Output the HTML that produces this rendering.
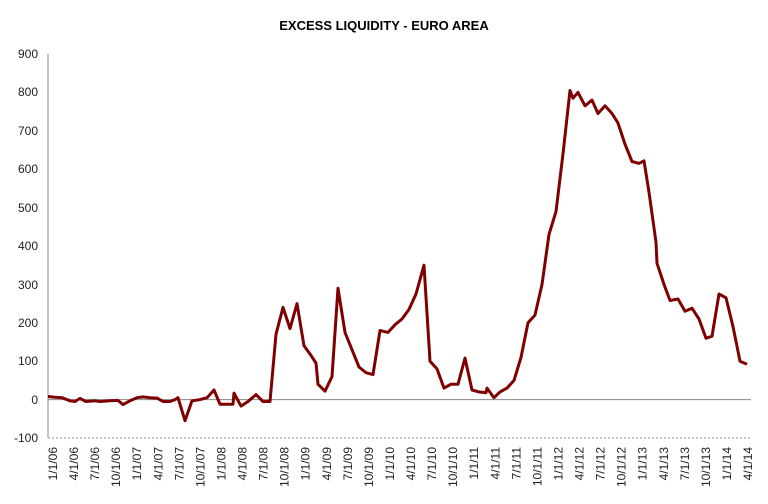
<!DOCTYPE html>
<html><head><meta charset="utf-8"><style>
body{margin:0;background:#fff;}
svg{display:block;font-family:"Liberation Sans",sans-serif;}
</style></head><body>
<svg width="768" height="504" viewBox="0 0 768 504">
<text x="384" y="30" text-anchor="middle" font-size="13" font-weight="bold" fill="#000">EXCESS LIQUIDITY - EURO AREA</text>
<g font-size="12" fill="#222" text-anchor="end">
<text x="38" y="58">900</text><text x="38" y="96">800</text><text x="38" y="135">700</text><text x="38" y="173">600</text><text x="38" y="212">500</text><text x="38" y="250">400</text><text x="38" y="289">300</text><text x="38" y="327">200</text><text x="38" y="365">100</text><text x="38" y="404">0</text><text x="38" y="442">-100</text>
</g>
<line x1="48" y1="54" x2="48" y2="438" stroke="#888" stroke-width="1"/>
<line x1="48" y1="399.6" x2="751" y2="399.6" stroke="#888" stroke-width="1"/>
<line x1="48" y1="438" x2="751" y2="438" stroke="#999" stroke-width="1" stroke-dasharray="2,2"/>
<g id="ticks" font-size="12" fill="#222" text-anchor="end"></g>
<polyline id="ln" fill="none" stroke="#7f0000" stroke-width="3" stroke-linejoin="round"/>
</svg>
<script>
var labs=[];var m=["1","4","7","10"];
for(var y=6;y<=14;y++)for(var q=0;q<4;q++){if(y==14&&q>1)break;labs.push(m[q]+"/1/"+(y<10?"0"+y:y));}
var g=document.getElementById("ticks"),s="";
var sp=(748-53)/(labs.length-1);
labs.forEach(function(l,i){var x=53+i*sp+4;s+='<text transform="translate('+x.toFixed(1)+',447) rotate(-90)">'+l+'</text>';});
g.innerHTML=s;
var d=[48,8,55,6,62,5,70,-3,75,-5,80,3,86,-5,95,-3,100,-5,110,-3,118,-2,123,-13,130,-3,137,5,143,7,150,5,157,4,163,-5,170,-5,175,0,178,5,185,-55,192,-3,200,0,207,5,214,25,220,-12,228,-12,233,-12,234,17,241,-17,248,-5,256,13,263,-5,270,-5,276,170,283,240,290,185,297,250,304,140,311,115,316,95,318,40,325,22,332,60,338,290,345,175,352,130,359,85,366,70,373,65,380,180,388,175,395,195,402,210,409,235,416,275,424,350,430,100,437,80,444,30,451,40,458,40,465,108,472,25,479,20,486,18,487,30,494,5,500,20,507,30,514,50,521,110,528,200,535,220,542,300,549,430,556,490,563,640,570,805,573,785,578,800,585,765,592,780,598,745,605,765,612,745,618,720,625,665,632,620,639,615,644,622,649,540,656,410,657,355,664,300,670,258,678,262,685,230,692,238,699,210,706,160,712,165,719,275,726,265,733,190,740,100,747,92];
var p=[];for(var i=0;i<d.length;i+=2)p.push(d[i]+","+(399.6-0.384*d[i+1]).toFixed(1));
document.getElementById("ln").setAttribute("points",p.join(" "));
</script>
</body></html>
